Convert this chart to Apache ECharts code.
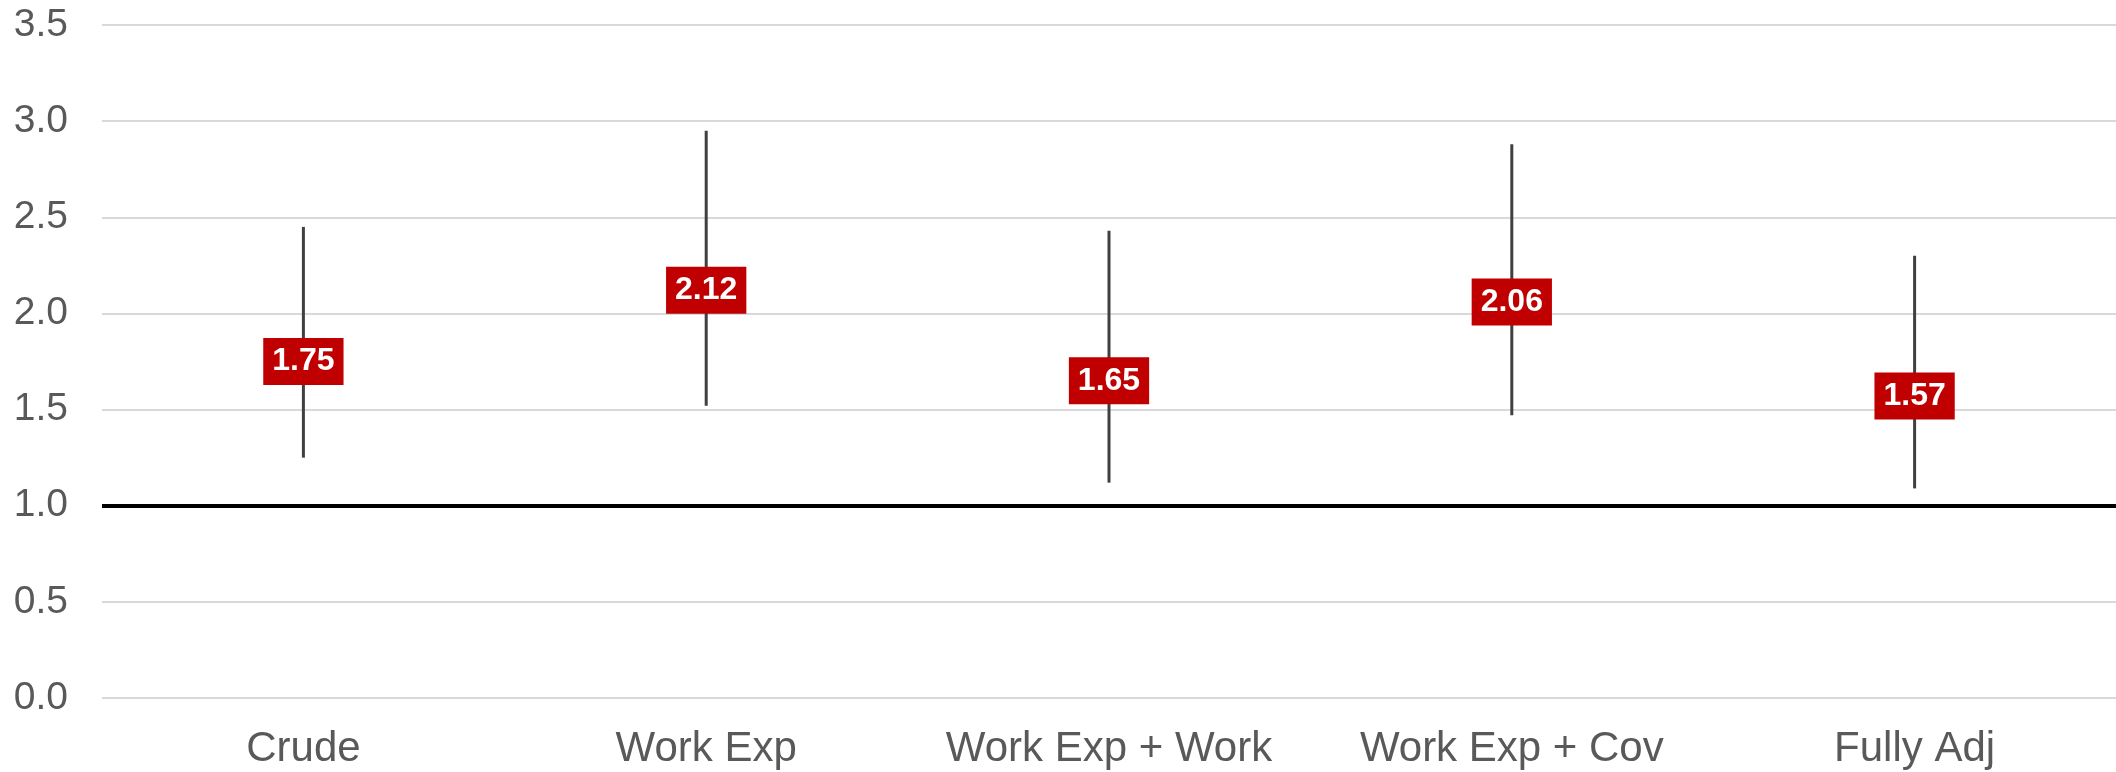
<!DOCTYPE html>
<html>
<head>
<meta charset="utf-8">
<title>Odds ratios by model</title>
<script src="https://cdn.jsdelivr.net/npm/echarts@6/dist/echarts.min.js"></script>
<style>
  html, body { margin: 0; padding: 0; background: #ffffff; }
  #chart { width: 2116px; height: 772px; }
</style>
</head>
<body>
<div id="chart"></div>
<script>
// Model names along the x axis
const categories = ['Crude', 'Work Exp', 'Work Exp + Work', 'Work Exp + Cov', 'Fully Adj'];
// Point estimates and 95% confidence bounds
const estimates = [1.75, 2.12, 1.65, 2.06, 1.57];
const lowerCI   = [1.25, 1.52, 1.12, 1.47, 1.09];
const upperCI   = [2.45, 2.95, 2.43, 2.88, 2.30];
// Value axis ticks
const yTicks = [0, 0.5, 1.0, 1.5, 2.0, 2.5, 3.0, 3.5];
const referenceValue = 1.0;

const fontFamily = '"Liberation Sans", Arial, Helvetica, sans-serif';

const chart = echarts.init(document.getElementById('chart'), null, { renderer: 'canvas' });

const intervalData = categories.map((c, i) => [i, lowerCI[i], upperCI[i]]);
const pointData = categories.map((c, i) => [i, estimates[i]]);

chart.setOption({
  animation: false,
  backgroundColor: '#ffffff',
  grid: { left: 102, right: -4, top: 25, bottom: 74, containLabel: false },
  xAxis: {
    type: 'category',
    data: categories,
    boundaryGap: true,
    axisLine: { show: false },
    axisTick: { show: false },
    splitLine: { show: false },
    axisLabel: {
      color: '#595959',
      fontSize: 42,
      fontFamily: fontFamily,
      margin: 30,
      interval: 0
    }
  },
  yAxis: {
    type: 'value',
    min: yTicks[0],
    max: yTicks[yTicks.length - 1],
    interval: 0.5,
    axisLine: { show: false },
    axisTick: { show: false },
    axisLabel: {
      color: '#595959',
      fontSize: 39,
      fontFamily: fontFamily,
      margin: 34,
      formatter: v => v.toFixed(1)
    },
    splitLine: { show: true, lineStyle: { color: '#d9d9d9', width: 2 } }
  },
  series: [
    {
      // confidence-interval whiskers
      type: 'custom',
      data: intervalData,
      encode: { x: 0, y: [1, 2] },
      renderItem: function (params, api) {
        const x = api.value(0);
        const lo = api.coord([x, api.value(1)]);
        const hi = api.coord([x, api.value(2)]);
        return {
          type: 'line',
          shape: { x1: lo[0], y1: lo[1], x2: hi[0], y2: hi[1] },
          style: { stroke: '#404040', lineWidth: 3 }
        };
      },
      markLine: {
        silent: true,
        symbol: ['none', 'none'],
        label: { show: false },
        lineStyle: { color: '#000000', width: 4, type: 'solid' },
        data: [{ yAxis: referenceValue }]
      },
      z: 2
    },
    {
      // point estimates shown as value boxes
      type: 'scatter',
      data: pointData,
      symbolSize: 1,
      itemStyle: { color: 'rgba(0,0,0,0)', opacity: 1 },
      label: {
        show: true,
        position: 'inside',
        formatter: p => p.value[1].toFixed(2),
        color: '#ffffff',
        fontWeight: 'bold',
        fontSize: 32,
        fontFamily: fontFamily,
        lineHeight: 33,
        backgroundColor: '#C00000',
        padding: [7, 9],
        opacity: 1
      },
      z: 5
    }
  ]
});
</script>
</body>
</html>
